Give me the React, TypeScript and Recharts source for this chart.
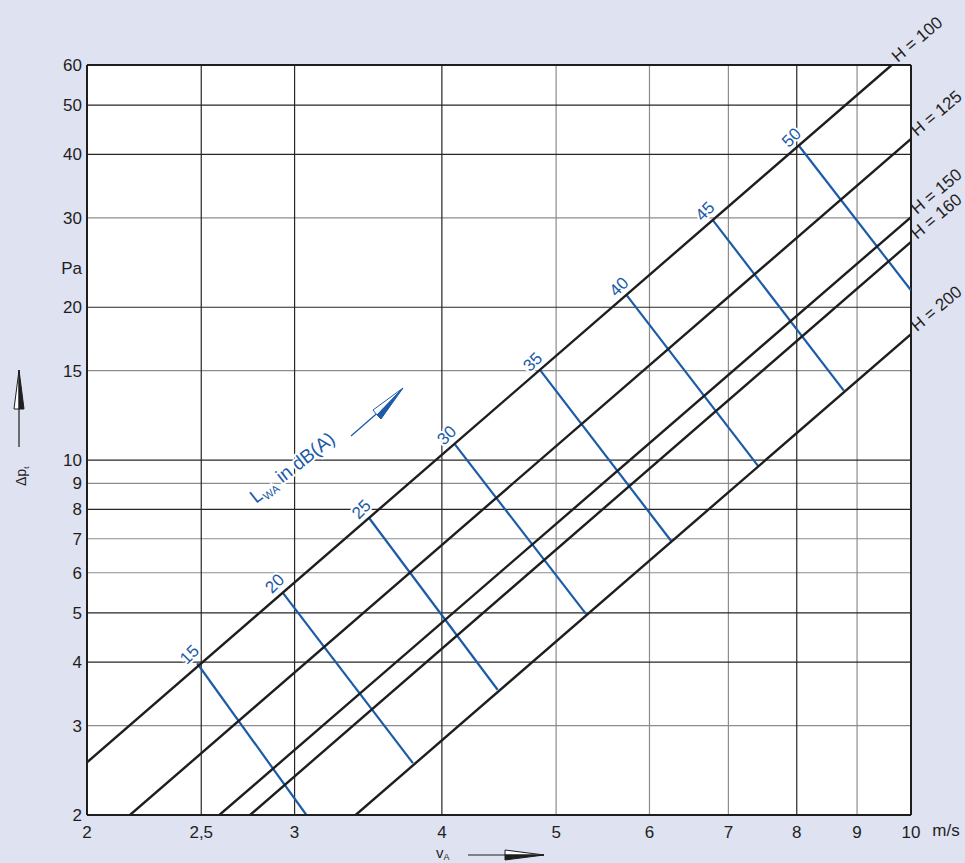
import React from "react";
import { CartesianGrid, ComposedChart, Line, ReferenceLine, XAxis, YAxis } from "recharts";

// axis ticks
const xTicks = [2, 2.5, 3, 4, 5, 6, 7, 8, 9, 10];
const yTicks = [2, 3, 4, 5, 6, 7, 8, 9, 10, 15, 20, 30, 40, 50, 60];

// fan height curves (v in m/s, p in Pa)
const h100 = [{ v: 2, p: 2.54 }, { v: 9.63, p: 60 }];
const h125 = [{ v: 2.175, p: 2 }, { v: 10, p: 42.9 }];
const h150 = [{ v: 2.59, p: 2 }, { v: 10, p: 30.1 }];
const h160 = [{ v: 2.75, p: 2 }, { v: 10, p: 26.9 }];
const h200 = [{ v: 3.38, p: 2 }, { v: 10, p: 17.7 }];

const hCurves = [
  { name: "H = 100", data: h100 },
  { name: "H = 125", data: h125 },
  { name: "H = 150", data: h150 },
  { name: "H = 160", data: h160 },
  { name: "H = 200", data: h200 },
];

// sound power level lines, LWA in dB(A)
const lwa15 = [{ v: 2.48, p: 3.98 }, { v: 3.07, p: 2 }];
const lwa20 = [{ v: 2.93, p: 5.49 }, { v: 3.78, p: 2.53 }];
const lwa25 = [{ v: 3.47, p: 7.69 }, { v: 4.46, p: 3.53 }];
const lwa30 = [{ v: 4.1, p: 10.76 }, { v: 5.3, p: 4.98 }];
const lwa35 = [{ v: 4.85, p: 15.0 }, { v: 6.26, p: 6.93 }];
const lwa40 = [{ v: 5.74, p: 21.1 }, { v: 7.42, p: 9.73 }];
const lwa45 = [{ v: 6.79, p: 29.7 }, { v: 8.77, p: 13.7 }];
const lwa50 = [{ v: 8.04, p: 41.5 }, { v: 10, p: 21.6 }];

const lwaLines = [
  { level: "15", data: lwa15 },
  { level: "20", data: lwa20 },
  { level: "25", data: lwa25 },
  { level: "30", data: lwa30 },
  { level: "35", data: lwa35 },
  { level: "40", data: lwa40 },
  { level: "45", data: lwa45 },
  { level: "50", data: lwa50 },
];

const xGridDark = [2.5, 3, 4, 8];
const xGridLight = [5, 6, 7, 9];
const yGridDark = [4, 5, 8, 10, 20, 40, 50];
const yGridLight = [3, 6, 7, 9, 15, 30];

const FONT = "'Liberation Sans', Arial, Helvetica, sans-serif";
const BLUE = "#1c5ba8";
const INK = "#1e1e1e";
const BG = "#dee2f1";

const W = 965;
const H = 863;
const PLOT = { left: 87, top: 65, right: 911, bottom: 815 };

const YTick = (props: any) => (
  <text x={props.x} y={props.y} dy={6} textAnchor="end" fontFamily={FONT} fontSize={17} fill={INK}>
    {props.payload.value}
  </text>
);

const XTick = (props: any) => (
  <text x={props.x} y={props.y} dy={21} textAnchor="middle" fontFamily={FONT} fontSize={17} fill={INK}>
    {String(props.payload.value).replace(".", ",")}
  </text>
);

const hLabel = (text: string, last: number) => (props: any) => {
  if (props.index !== last) return <g />;
  return (
    <text
      transform={`translate(${props.x + 6},${props.y - 2}) rotate(-40)`}
      fontFamily={FONT}
      fontSize={17}
      fill={INK}
    >
      {text}
    </text>
  );
};

const lwaLabel = (text: string) => (props: any) => {
  if (props.index !== 0) return <g />;
  return (
    <text
      transform={`translate(${props.x - 8},${props.y - 9}) rotate(-45)`}
      textAnchor="middle"
      dy={6}
      fontFamily={FONT}
      fontSize={17}
      fill={BLUE}
      stroke="#fff"
      strokeWidth={4}
      paintOrder="stroke"
    >
      {text}
    </text>
  );
};

export default function App() {
  return (
    <div style={{ position: "relative", width: W, height: H, background: BG, overflow: "hidden" }}>
      <style>{`body{margin:0}`}</style>
      <div
        style={{
          position: "absolute",
          left: PLOT.left,
          top: PLOT.top,
          width: PLOT.right - PLOT.left,
          height: PLOT.bottom - PLOT.top,
          background: "#fff",
        }}
      />
      <div style={{ position: "absolute", left: 0, top: 0 }}>
        <ComposedChart width={W} height={H} margin={{ top: 65, right: 54, bottom: 0, left: 0 }}>
          <CartesianGrid
            stroke="#8c8c8c"
            strokeWidth={1.2}
            horizontalValues={yGridLight}
            verticalValues={xGridLight}
          />
          <CartesianGrid
            stroke="#262626"
            strokeWidth={1.2}
            horizontalValues={yGridDark}
            verticalValues={xGridDark}
          />
          <XAxis
            dataKey="v"
            type="number"
            scale="log"
            domain={[2, 10]}
            ticks={xTicks}
            allowDataOverflow
            height={48}
            tickSize={0}
            tickLine={false}
            tick={<XTick />}
            axisLine={{ stroke: INK, strokeWidth: 2 }}
          />
          <YAxis
            dataKey="p"
            type="number"
            scale="log"
            domain={[2, 60]}
            ticks={yTicks}
            allowDataOverflow
            width={87}
            tickSize={0}
            tickMargin={5}
            tickLine={false}
            tick={<YTick />}
            axisLine={{ stroke: INK, strokeWidth: 2 }}
          />
          <ReferenceLine y={60} stroke={INK} strokeWidth={2} />
          <ReferenceLine x={10} stroke={INK} strokeWidth={2} />
          {lwaLines.map((l) => (
            <Line
              key={l.level}
              data={l.data}
              dataKey="p"
              type="linear"
              stroke={BLUE}
              strokeWidth={2.2}
              dot={false}
              activeDot={false}
              isAnimationActive={false}
              label={lwaLabel(l.level)}
            />
          ))}
          {hCurves.map((c) => (
            <Line
              key={c.name}
              data={c.data}
              dataKey="p"
              type="linear"
              stroke={INK}
              strokeWidth={2.4}
              dot={false}
              activeDot={false}
              isAnimationActive={false}
              label={hLabel(c.name, c.data.length - 1)}
            />
          ))}
        </ComposedChart>
      </div>
      <svg
        width={W}
        height={H}
        style={{ position: "absolute", left: 0, top: 0, pointerEvents: "none" }}
        fontFamily={FONT}
      >
        {/* unit labels */}
        <text x={82} y={274} textAnchor="end" fontSize={17} fill={INK}>Pa</text>
        <text x={946} y={836} textAnchor="middle" fontSize={17} fill={INK}>m/s</text>

        {/* y axis title with arrow */}
        <g transform="translate(26,486) rotate(-90)">
          <text x={0} y={0} fontSize={14} fill={INK}>
            Δp<tspan dy={3} fontSize={8}>t</tspan>
          </text>
        </g>
        <line x1={19} y1={447} x2={19} y2={405} stroke={INK} strokeWidth={1.2} />
        <polygon points="19,370 14,409 19,409" fill="#fff" stroke={INK} strokeWidth={1} />
        <polygon points="19,370 24,409 19,409" fill={INK} stroke={INK} strokeWidth={1} />

        {/* x axis title with arrow */}
        <text x={436} y={858} fontSize={15} fill={INK}>
          v<tspan dy={2} fontSize={9}>A</tspan>
        </text>
        <line x1={468} y1={855} x2={510} y2={855} stroke={INK} strokeWidth={1.2} />
        <polygon points="544,855 505,850 505,855" fill="#fff" stroke={INK} strokeWidth={1} />
        <polygon points="544,855 505,860 505,855" fill={INK} stroke={INK} strokeWidth={1} />

        {/* LWA annotation */}
        <g transform="translate(256,504) rotate(-38)">
          <text x={0} y={0} fontSize={19} fill={BLUE} stroke="#fff" strokeWidth={4} paintOrder="stroke">
            L<tspan dy={4} fontSize={11}>WA</tspan>
            <tspan dy={-4}> in dB(A)</tspan>
          </text>
        </g>
        <line x1={351} y1={436} x2={382} y2={409} stroke={BLUE} strokeWidth={1.3} />
        <polygon points="403,388 373,410 377,415" fill="#fff" stroke={BLUE} strokeWidth={1} />
        <polygon points="403,388 377,415 381,419" fill={BLUE} stroke={BLUE} strokeWidth={1} />
      </svg>
    </div>
  );
}
